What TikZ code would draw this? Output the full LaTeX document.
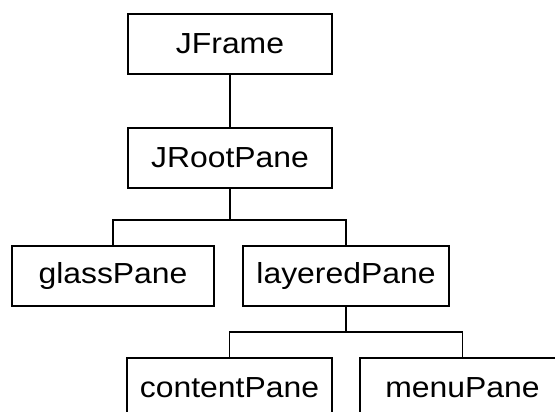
\documentclass[tikz,border=0pt]{standalone}
\usepackage{fontspec}
\setmainfont{Liberation Sans}[FakeStretch=1.1]
\usepackage{tikz}
\usetikzlibrary{positioning}

\begin{document}
\begin{tikzpicture}[
      x=1pt, y=1pt,
      font=\fontsize{29}{32}\selectfont,
      line width=1.4pt,
      pane/.style={
        rectangle,
        draw,
        align=center,
        minimum width=204pt,
        minimum height=60pt,
        inner sep=0pt
      }
    ]
    \useasboundingbox (0,0) rectangle (555,412);
    \node[pane] (frame) at (230,368) {JFrame};
    \node[pane] (root) at (230,254) {JRootPane};
    \node[pane, minimum width=202pt] (glass) at (113,136) {glassPane};
    \node[pane, minimum width=206pt] (layered) at (346,136) {layeredPane};
    \node[pane, minimum width=205pt] (content) at (229.5,24) {contentPane};
    \node[pane, minimum width=205pt] (menu) at (462.5,24) {menuPane};
    \coordinate (bar1) at (230,192);
    \coordinate (bar2) at (346,80);
    \draw (frame) -- (root);
    \draw (root.south) -- (bar1) -| (glass.north);
    \draw (bar1) -| (layered.north);
    \draw (layered.south) -- (bar2) -| (content.north);
    \draw (bar2) -| (menu.north);
  \end{tikzpicture}
\end{document}
